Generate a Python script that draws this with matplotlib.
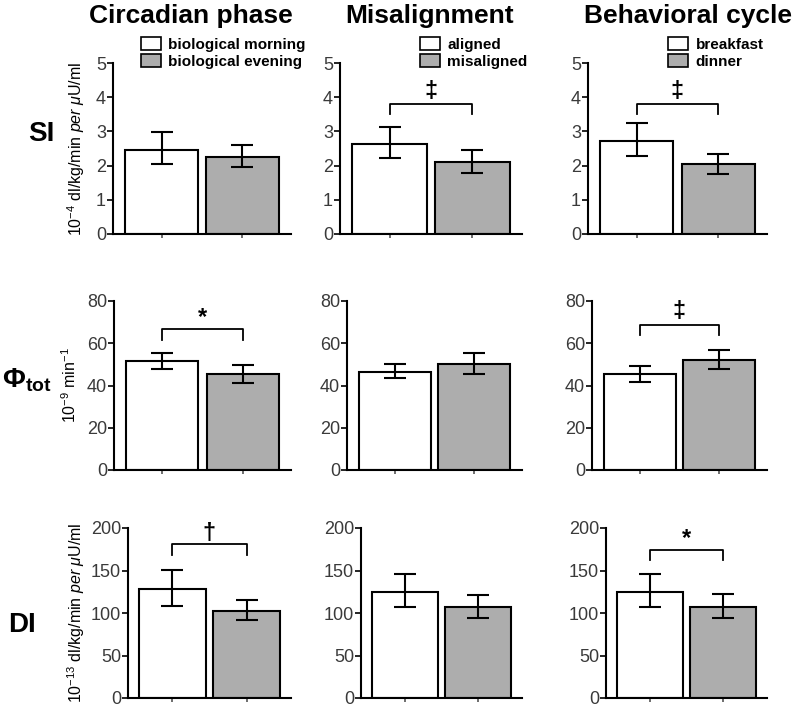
import numpy as np
import matplotlib
matplotlib.use("Agg")
import matplotlib.pyplot as plt
from matplotlib.patches import Patch

plt.rcParams['font.family'] = ['Liberation Sans', 'DejaVu Sans']
plt.rcParams['mathtext.fontset'] = 'custom'
plt.rcParams['mathtext.rm'] = 'Liberation Sans'
plt.rcParams['mathtext.it'] = 'Liberation Sans:italic'
plt.rcParams['mathtext.bf'] = 'Liberation Sans:bold'

# column titles and legend labels
col_titles = ["Circadian phase", "Misalignment", "Behavioral cycle"]
legend_labels = [
    ["biological morning", "biological evening"],
    ["aligned", "misaligned"],
    ["breakfast", "dinner"],
]
row_names = ["SI", r"$\mathbf{\Phi}_{\mathbf{tot}}$", "DI"]
row_ylabels = [
    r"10$^{-4}$ dl/kg/min $per$ $\mu$U/ml",
    r"10$^{-9}$ min$^{-1}$",
    r"10$^{-13}$ dl/kg/min $per$ $\mu$U/ml",
]
row_ylim = [5, 80, 200]
row_yticks = [np.arange(0, 6, 1), np.arange(0, 81, 20), np.arange(0, 201, 50)]

# means [column][white, gray], error bar low / high ends
si_mean = [[2.47, 2.26], [2.64, 2.10], [2.73, 2.04]]
si_lo = [[2.05, 1.96], [2.23, 1.79], [2.27, 1.76]]
si_hi = [[2.98, 2.60], [3.12, 2.45], [3.26, 2.33]]

phi_mean = [[51.6, 45.3], [46.6, 50.1], [45.4, 52.3]]
phi_lo = [[47.6, 41.3], [43.4, 45.6], [41.8, 48.0]]
phi_hi = [[55.5, 49.7], [50.1, 55.5], [49.2, 56.9]]

di_mean = [[128.6, 102.7], [124.4, 107.5], [125.0, 107.3]]
di_lo = [[108.6, 92.0], [107.0, 94.5], [107.0, 94.7]]
di_hi = [[151.0, 115.7], [145.7, 121.6], [146.0, 122.0]]

means = [si_mean, phi_mean, di_mean]
lows = [si_lo, phi_lo, di_lo]
highs = [si_hi, phi_hi, di_hi]

# significance brackets: (row, col, bar height, leg bottom, symbol, symbol y)
brackets = [
    (0, 1, 3.81, 3.52, "\u2021", 4.17),
    (0, 2, 3.79, 3.50, "\u2021", 4.17),
    (1, 0, 66.6, 61.5, "*", 72.0),
    (1, 2, 68.8, 64.0, "\u2021", 75.0),
    (2, 0, 181.0, 168.6, "\u2020", 194.0),
    (2, 2, 174.4, 162.5, "*", 188.0),
]

W, H = 800, 712
fig = plt.figure(figsize=(W / 100, H / 100), dpi=100)

# axes pixel boxes per row: (left, right) per column, (top, bottom)
x_edges = [
    [(113, 291), (340, 522), (588, 767)],
    [(114, 291), (347, 522), (592, 767)],
    [(128, 291), (361, 522), (606, 767)],
]
y_edges = [(63, 234), (301, 470), (528, 698)]

colors = ["white", "#adadad"]
tick_col = "#3a3a3a"
axes = {}

for r in range(3):
    t, b = y_edges[r]
    for c in range(3):
        lft, rgt = x_edges[r][c]
        ax = fig.add_axes([lft / W, 1 - b / H, (rgt - lft) / W, (b - t) / H])
        axes[(r, c)] = ax
        m = np.array(means[r][c])
        lo = m - np.array(lows[r][c])
        hi = np.array(highs[r][c]) - m
        ax.bar([0, 1], m, width=0.9, color=colors, edgecolor="black",
               linewidth=1.5, zorder=2)
        ax.errorbar([0, 1], m, yerr=[lo, hi], fmt="none", ecolor="black",
                    elinewidth=1.5, capsize=8, capthick=1.5, zorder=3)
        ax.set_xlim(-0.6, 1.6)
        ax.set_ylim(0, row_ylim[r])
        ax.set_yticks(row_yticks[r])
        ax.set_xticks([0, 1])
        ax.set_xticklabels([])
        ax.tick_params(axis="y", labelsize=13, colors="black", labelcolor=tick_col,
                       length=4, width=1.2, pad=1)
        ax.tick_params(axis="x", length=3, width=1.2, colors="#555555")
        for s in ["top", "right"]:
            ax.spines[s].set_visible(False)
        for s in ["left", "bottom"]:
            ax.spines[s].set_linewidth(1.5)

# brackets
for r, c, yb, yl, sym, ys in brackets:
    ax = axes[(r, c)]
    ax.plot([0, 0, 1, 1], [yl, yb, yb, yl], color="black", lw=1.3, zorder=4)
    ax.text(0.5, ys, sym, ha="center", va="center", fontsize=17,
            fontweight="bold", zorder=5)

# column titles
title_x = [191, 430, 688]
for c in range(3):
    fig.text(title_x[c] / W, 1 - 16 / H, col_titles[c], ha="center", va="center",
             fontsize=19, fontweight="bold")

# row names
row_name_pos = [(41, 134), (27, 380), (22, 625)]
row_name_size = [20, 20, 20]
for r in range(3):
    x, y = row_name_pos[r]
    fig.text(x / W, 1 - y / H, row_names[r], ha="center", va="center",
             fontsize=row_name_size[r], fontweight="bold")

# y labels (left column only)
ylab_x = [76, 70, 76]
for r in range(3):
    t, b = y_edges[r]
    fig.text(ylab_x[r] / W, 1 - (t + b) / 2 / H, row_ylabels[r], rotation=90,
             ha="center", va="center", fontsize=11.5)

# legends
legend_x = [141, 420, 668]
for c in range(3):
    handles = [Patch(facecolor=colors[i], edgecolor="black", linewidth=1.2)
               for i in range(2)]
    fig.legend(handles, legend_labels[c], loc="upper left",
               bbox_to_anchor=(legend_x[c] / W, 1 - 37 / H), frameon=False,
               prop={"size": 11, "weight": "bold"}, handlelength=1.3,
               handleheight=0.9, handletextpad=0.5, labelspacing=0.15,
               borderpad=0, borderaxespad=0)

fig.savefig("out.png", dpi=100)
